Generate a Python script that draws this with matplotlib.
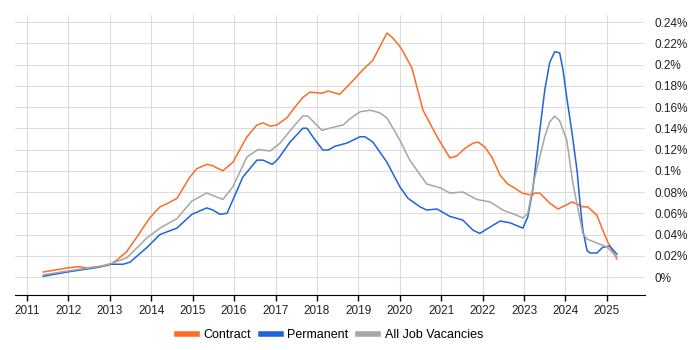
import matplotlib.pyplot as plt
from matplotlib.ticker import FuncFormatter

plt.rcParams['font.family'] = ['Liberation Sans', 'DejaVu Sans']

# value = share of job ads (%)
contract_years = [2011.39, 2011.97, 2012.23, 2012.45, 2012.76, 2012.98, 2013.17, 2013.41, 2013.66,
                  2013.97, 2014.21, 2014.38, 2014.62, 2014.93, 2015.10, 2015.34, 2015.47, 2015.59,
                  2015.73, 2015.97, 2016.31, 2016.55, 2016.70, 2016.87, 2017.03, 2017.28, 2017.47,
                  2017.66, 2017.83, 2018.12, 2018.27, 2018.55, 2018.80, 2019.11, 2019.35, 2019.69,
                  2019.83, 2020.00, 2020.08, 2020.29, 2020.56, 2020.90, 2021.21, 2021.38, 2021.57,
                  2021.77, 2021.89, 2022.05, 2022.22, 2022.42, 2022.59, 2022.78, 2022.95, 2023.19,
                  2023.26, 2023.38, 2023.62, 2023.82, 2024.03, 2024.15, 2024.28, 2024.42, 2024.54,
                  2024.76, 2024.90, 2025.02, 2025.24]
contract = [0.0047, 0.0085, 0.0097, 0.0085, 0.010, 0.011, 0.016, 0.024, 0.038,
            0.056, 0.066, 0.069, 0.074, 0.094, 0.102, 0.106, 0.105, 0.1025,
            0.100, 0.108, 0.132, 0.143, 0.145, 0.142, 0.143, 0.150, 0.160,
            0.169, 0.174, 0.173, 0.175, 0.172, 0.182, 0.195, 0.204, 0.2297,
            0.225, 0.217, 0.212, 0.197, 0.157, 0.132, 0.112, 0.114, 0.121,
            0.126, 0.127, 0.1225, 0.113, 0.096, 0.088, 0.0835, 0.079, 0.077,
            0.079, 0.079, 0.0695, 0.064, 0.068, 0.0706, 0.0687, 0.066, 0.066,
            0.058, 0.044, 0.033, 0.017]

perm_years = [2011.39, 2011.97, 2012.45, 2012.76, 2012.98, 2013.32, 2013.49, 2013.90, 2014.21,
              2014.62, 2014.98, 2015.34, 2015.49, 2015.66, 2015.83, 2015.97, 2016.21, 2016.55,
              2016.70, 2016.92, 2017.06, 2017.35, 2017.66, 2017.76, 2017.90, 2018.14, 2018.27,
              2018.43, 2018.72, 2019.04, 2019.16, 2019.35, 2019.69, 2020.00, 2020.20, 2020.49,
              2020.65, 2020.90, 2021.21, 2021.52, 2021.77, 2021.93, 2022.18, 2022.42, 2022.66,
              2022.97, 2023.09, 2023.21, 2023.38, 2023.50, 2023.62, 2023.74, 2023.86, 2023.94,
              2024.03, 2024.15, 2024.28, 2024.35, 2024.42, 2024.52, 2024.59, 2024.76, 2024.90,
              2025.07, 2025.24]
permanent = [0.0007, 0.0047, 0.0075, 0.0094, 0.012, 0.012, 0.014, 0.028, 0.040,
             0.046, 0.059, 0.065, 0.063, 0.059, 0.060, 0.0725, 0.094, 0.110,
             0.110, 0.106, 0.111, 0.127, 0.140, 0.140, 0.132, 0.1195, 0.1195,
             0.123, 0.126, 0.132, 0.132, 0.127, 0.108, 0.085, 0.074, 0.066,
             0.063, 0.064, 0.057, 0.0536, 0.044, 0.041, 0.047, 0.0527, 0.051,
             0.046, 0.0565, 0.082, 0.138, 0.176, 0.202, 0.212, 0.211, 0.195,
             0.169, 0.138, 0.100, 0.070, 0.044, 0.025, 0.0226, 0.0226, 0.028,
             0.029, 0.0216]

all_years = [2011.39, 2011.97, 2012.76, 2012.98, 2013.41, 2013.90, 2014.21, 2014.62, 2014.98,
             2015.34, 2015.73, 2015.97, 2016.31, 2016.58, 2016.87, 2017.11, 2017.42, 2017.66,
             2017.78, 2018.12, 2018.39, 2018.63, 2018.80, 2019.04, 2019.28, 2019.52, 2019.69,
             2020.00, 2020.24, 2020.65, 2020.97, 2021.21, 2021.52, 2021.86, 2022.18, 2022.49,
             2022.83, 2022.97, 2023.09, 2023.26, 2023.50, 2023.62, 2023.74, 2023.86, 2024.03,
             2024.18, 2024.42, 2024.52, 2024.76, 2025.00, 2025.24]
all_jobs = [0.002, 0.0056, 0.010, 0.012, 0.018, 0.037, 0.046, 0.055, 0.0715,
            0.079, 0.073, 0.085, 0.113, 0.120, 0.1186, 0.126, 0.141, 0.1515,
            0.1515, 0.138, 0.141, 0.143, 0.149, 0.1555, 0.157, 0.1545, 0.1497,
            0.129, 0.110, 0.0875, 0.084, 0.079, 0.080, 0.073, 0.0706, 0.063,
            0.058, 0.0555, 0.060, 0.094, 0.132, 0.146, 0.1515, 0.147, 0.129,
            0.088, 0.041, 0.0357, 0.032, 0.0283, 0.019]

years = list(range(2011, 2026))
yticks = [0, 0.02, 0.04, 0.06, 0.08, 0.10, 0.12, 0.14, 0.16, 0.18, 0.20, 0.22, 0.24]

fig = plt.figure(figsize=(7, 3.5), dpi=100)
ax = fig.add_axes([15 / 700, 1 - 295 / 350, 630 / 700, 280 / 350])

ax.plot(contract_years, contract, color='#ff6a26', lw=1.1, label='Contract')
ax.plot(perm_years, permanent, color='#1f63dd', lw=1.1, label='Permanent')
ax.plot(all_years, all_jobs, color='#a6a6a6', lw=1.1, label='All Job Vacancies')

ax.set_xlim(2010.71, 2025.92)
ax.set_ylim(-0.01694, 0.2466)
ax.set_xticks(years)
ax.set_yticks(yticks)
ax.yaxis.tick_right()
ax.yaxis.set_major_formatter(FuncFormatter(lambda v, p: f"{round(v, 4):g}%"))
ax.tick_params(axis='y', length=0, pad=7, labelsize=8.5, colors='#222222')
ax.tick_params(axis='x', length=4, width=1, labelsize=8.5, colors='#222222', color='black')
ax.grid(True, color='#dcdcdc', lw=0.8)
ax.set_axisbelow(True)
for s in ['top', 'left', 'right']:
    ax.spines[s].set_visible(False)
ax.spines['bottom'].set_color('black')

leg = fig.legend(loc='center', bbox_to_anchor=(330 / 700, 1 - 335 / 350), ncol=3, frameon=False,
                 fontsize=9, handlelength=1.6, handletextpad=0.5, columnspacing=0.8)
for ln in leg.get_lines():
    ln.set_linewidth(4)

fig.savefig('out.png', dpi=100)
